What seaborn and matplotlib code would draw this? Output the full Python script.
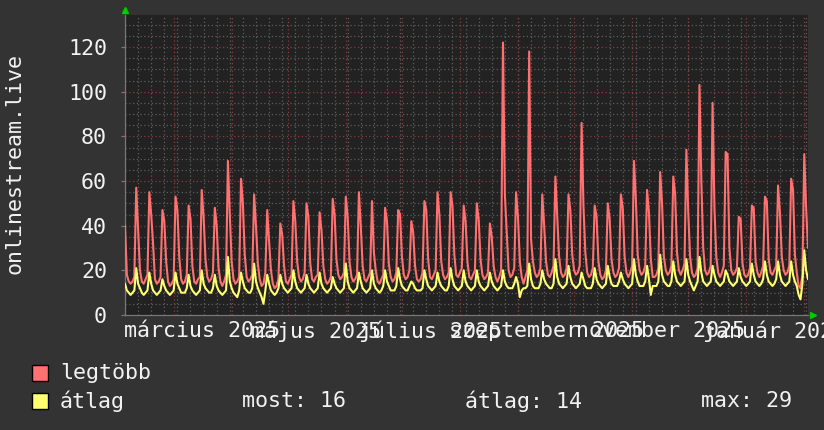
import matplotlib
matplotlib.use("Agg")
import matplotlib.pyplot as plt
import matplotlib.patches as mpatches
import numpy as np
import pandas as pd
import seaborn as sns

# ---------------- data (daily, 2025-02-03 .. 2026-02-03) ----------------
start_date = "2025-02-03"

# "legtöbb" (max) - one row per week, peak day first
max_weeks = [
    [40, 18, 15, 14, 15, 17],
    [57, 38, 20, 15, 14, 16, 18],
    [55, 45, 32, 16, 14, 15, 17],
    [47, 42, 24, 15, 13, 14, 16],
    [53, 47, 26, 16, 14, 15, 18],
    [49, 43, 22, 15, 14, 16, 17],
    [56, 44, 25, 17, 15, 16, 19],
    [48, 40, 21, 15, 13, 15, 18],
    [69, 45, 24, 16, 14, 15, 17],
    [61, 50, 27, 17, 15, 16, 18],
    [54, 40, 23, 16, 13, 14, 19],
    [47, 33, 20, 14, 12, 13, 16],
    [41, 36, 22, 15, 14, 16, 18],
    [51, 42, 24, 17, 15, 16, 19],
    [50, 44, 23, 16, 15, 17, 18],
    [46, 38, 22, 16, 14, 15, 17],
    [52, 45, 25, 18, 16, 17, 19],
    [53, 44, 24, 17, 15, 16, 18],
    [55, 40, 22, 16, 15, 17, 19],
    [51, 28, 20, 15, 14, 16, 18],
    [48, 42, 23, 17, 15, 16, 19],
    [47, 45, 26, 18, 16, 17, 20],
    [42, 37, 22, 16, 15, 16, 19],
    [51, 47, 25, 17, 16, 18, 20],
    [55, 45, 24, 18, 16, 17, 19],
    [55, 49, 27, 18, 17, 19, 21],
    [49, 42, 24, 17, 16, 18, 20],
    [50, 43, 25, 18, 16, 17, 19],
    [41, 35, 22, 17, 15, 17, 20],
    [122, 54, 37, 20, 17, 18, 21],
    [55, 44, 24, 17, 14, 17, 20],
    [118, 34, 24, 19, 17, 18, 21],
    [54, 40, 24, 18, 17, 19, 22],
    [62, 44, 26, 19, 17, 18, 21],
    [54, 47, 27, 20, 18, 19, 22],
    [86, 49, 28, 19, 17, 18, 21],
    [49, 44, 24, 18, 16, 17, 20],
    [50, 43, 25, 19, 17, 18, 21],
    [54, 48, 26, 19, 17, 19, 22],
    [69, 52, 27, 20, 18, 19, 22],
    [56, 46, 25, 17, 17, 18, 21],
    [64, 50, 26, 20, 18, 19, 22],
    [62, 54, 28, 20, 18, 20, 23],
    [74, 46, 26, 19, 17, 18, 21],
    [103, 60, 30, 20, 18, 19, 22],
    [95, 48, 26, 19, 17, 19, 22],
    [73, 72, 30, 20, 18, 19, 21],
    [44, 43, 23, 18, 17, 18, 21],
    [49, 48, 24, 19, 17, 19, 22],
    [53, 51, 25, 19, 18, 20, 22],
    [58, 46, 26, 20, 18, 19, 22],
    [61, 56, 27, 19, 13, 12, 18],
    [72, 48, 30],
]

# "átlag" (average)
avg_weeks = [
    [14, 11, 10, 9, 10, 11],
    [21, 14, 12, 10, 9, 10, 11],
    [19, 14, 11, 10, 9, 10, 11],
    [16, 13, 11, 10, 9, 10, 11],
    [19, 14, 12, 10, 10, 10, 12],
    [18, 13, 11, 10, 9, 10, 11],
    [20, 14, 12, 11, 10, 10, 12],
    [18, 13, 11, 10, 9, 10, 11],
    [26, 15, 12, 10, 9, 8, 11],
    [19, 15, 12, 11, 10, 10, 12],
    [23, 15, 12, 10, 8, 5, 11],
    [18, 14, 11, 10, 9, 10, 12],
    [18, 14, 12, 11, 10, 11, 12],
    [20, 15, 12, 11, 10, 11, 12],
    [18, 14, 12, 11, 10, 11, 12],
    [19, 14, 12, 11, 10, 11, 12],
    [17, 14, 12, 11, 10, 11, 12],
    [23, 15, 12, 11, 10, 11, 12],
    [19, 15, 12, 11, 10, 11, 12],
    [20, 14, 12, 11, 10, 11, 13],
    [20, 15, 13, 11, 11, 11, 13],
    [21, 16, 13, 12, 11, 11, 13],
    [15, 14, 12, 11, 11, 11, 12],
    [20, 16, 13, 12, 11, 12, 13],
    [19, 15, 13, 12, 11, 11, 13],
    [21, 16, 13, 12, 11, 12, 13],
    [20, 15, 13, 12, 11, 12, 13],
    [20, 15, 13, 12, 11, 12, 13],
    [19, 15, 13, 12, 11, 12, 13],
    [20, 15, 13, 12, 12, 12, 14],
    [17, 14, 8, 11, 12, 12, 13],
    [23, 16, 13, 12, 12, 12, 14],
    [20, 16, 14, 13, 12, 12, 14],
    [25, 17, 14, 13, 12, 13, 14],
    [22, 17, 14, 13, 12, 13, 14],
    [19, 16, 13, 12, 12, 12, 14],
    [21, 16, 14, 13, 12, 13, 14],
    [22, 17, 14, 13, 13, 13, 15],
    [19, 16, 14, 13, 12, 13, 14],
    [25, 18, 15, 13, 13, 13, 15],
    [22, 16, 9, 13, 13, 13, 15],
    [27, 18, 15, 14, 13, 13, 15],
    [24, 18, 15, 14, 13, 14, 15],
    [25, 18, 15, 13, 11, 13, 15],
    [26, 19, 15, 14, 13, 14, 15],
    [22, 18, 15, 14, 13, 14, 15],
    [20, 18, 15, 14, 13, 14, 15],
    [21, 17, 15, 14, 13, 14, 15],
    [23, 18, 15, 14, 13, 14, 16],
    [24, 18, 15, 14, 13, 14, 16],
    [24, 18, 15, 14, 13, 14, 15],
    [24, 18, 15, 13, 9, 7, 14],
    [29, 20, 16],
]

month_labels = ["március 2025", "május 2025", "július 2025",
                "szeptember 2025", "november 2025", "január 2026"]
month_starts = ["2025-03-01", "2025-05-01", "2025-07-01",
                "2025-09-01", "2025-11-01", "2026-01-01"]
y_ticks = [0, 20, 40, 60, 80, 100, 120]
y_title = "onlinestream.live"
legend_names = ["legtöbb", "átlag"]

# ---------------- build frame ----------------
max_vals = [v for w in max_weeks for v in w]
avg_vals = [v for w in avg_weeks for v in w]
dates = pd.date_range(start_date, periods=len(max_vals), freq="D")
df = pd.DataFrame({"date": dates, "max": max_vals, "avg": avg_vals})

# ---------------- style ----------------
sns.set_theme(style="dark")
plt.rcParams["font.family"] = ["DejaVu Sans Mono", "DejaVu Sans"]

BG = "#333333"
PLOT_BG = "#222222"
RED = "#ff7070"
YEL = "#ffff70"
TXT = "#f2f2f2"
MINOR = "#5e5e5e"
MAJOR = "#8a3a40"
FS = 15.6

W, H = 824, 430
fig = plt.figure(figsize=(W / 100, H / 100), dpi=100, facecolor=BG)
L, R, T, B = 125, 808, 15, 315
ax = fig.add_axes([L / W, 1 - B / H, (R - L) / W, (B - T) / H])
ax.set_facecolor(PLOT_BG)

x0 = pd.Timestamp(start_date)
x1 = x0 + pd.Timedelta(days=365)
ax.set_xlim(x0, x1)
ymax = (B - T) / ((B - 47) / 120.0)
ax.set_ylim(0, ymax)

# grid
dot = (0, (1, 2))
for wk in pd.date_range(x0, x1, freq="7D"):
    ax.axvline(wk, color=MINOR, lw=0.9, ls=dot, zorder=1)
for ms in pd.date_range("2025-03-01", x1, freq="MS"):
    ax.axvline(ms, color=MAJOR, lw=0.9, ls=dot, zorder=1.1)
for yv in range(5, int(ymax) + 1, 5):
    if yv % 20:
        ax.axhline(yv, color=MINOR, lw=0.9, ls=dot, zorder=1)
    else:
        ax.axhline(yv, color=MAJOR, lw=0.9, ls=dot, zorder=1.1)

# lines
sns.lineplot(data=df, x="date", y="max", ax=ax, color=RED, lw=1.5,
             legend=False, zorder=3)
sns.lineplot(data=df, x="date", y="avg", ax=ax, color=YEL, lw=1.5,
             legend=False, zorder=4)

# axes / spines
for s in ["top", "right"]:
    ax.spines[s].set_visible(False)
for s in ["left", "bottom"]:
    ax.spines[s].set_color("#777777")
    ax.spines[s].set_linewidth(0.9)
ax.set_xlabel("")
ax.set_ylabel("")

label_pos = [pd.Timestamp(m) + pd.Timedelta(days=15) for m in month_starts]
ax.set_xticks(label_pos)
ax.set_xticklabels(month_labels, fontsize=FS, color=TXT)
ax.tick_params(axis="x", length=0, pad=4)
ax.set_yticks(y_ticks)
ax.set_yticklabels([str(v) for v in y_ticks], fontsize=FS, color=TXT)
ax.tick_params(axis="y", length=3, width=0.9, color="#777777", pad=10, left=True)
ax.grid(False)

# green arrows
ax.plot([0], [1 + 5 / (B - T)], marker="^", color="#00cc00", ms=5,
        transform=ax.transAxes, clip_on=False, zorder=6)
ax.plot([1 + 5 / (R - L)], [0], marker=">", color="#00cc00", ms=5,
        transform=ax.transAxes, clip_on=False, zorder=6)

# y title
fig.text(15 / W, 1 - 164 / H, y_title, rotation=90, ha="center", va="center",
         fontsize=FS, color=TXT)

# legend
def px(x, y):
    return x / W, 1 - y / H

for i, (name, col) in enumerate(zip(legend_names, [RED, YEL])):
    yc = 373 + 28 * i
    fig.patches.append(mpatches.Rectangle(px(32, yc + 8), 16 / W, 16 / H,
                                          transform=fig.transFigure,
                                          facecolor=col, edgecolor="black", lw=1))
    fig.text(*px(60, yc), name, ha="left", va="center", fontsize=FS, color=TXT)

avg_arr = df["avg"].to_numpy()
fig.text(*px(242, 401), f"most: {avg_arr[-1]:.0f}", ha="left", va="center",
         fontsize=FS, color=TXT)
fig.text(*px(465, 401), f"átlag: {avg_arr.mean():.0f}", ha="left", va="center",
         fontsize=FS, color=TXT)
fig.text(*px(701, 401), f"max: {avg_arr.max():.0f}", ha="left", va="center",
         fontsize=FS, color=TXT)

fig.savefig("out.png", dpi=100, facecolor=BG)
